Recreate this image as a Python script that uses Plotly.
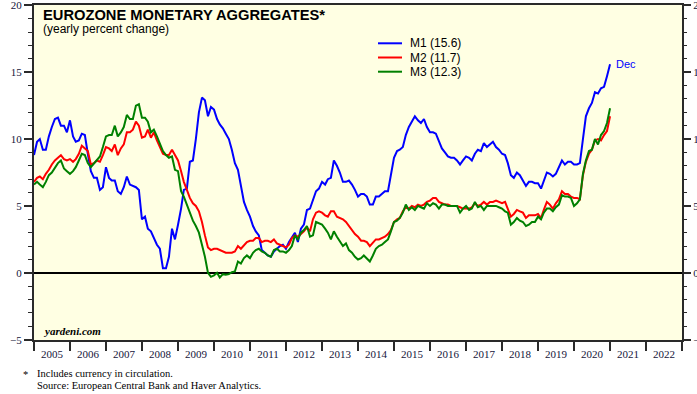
import plotly.graph_objects as go
import pandas as pd

# ---------------- data (monthly, yearly % change) ----------------
dates = pd.date_range("2005-01-01", periods=193, freq="MS")

m1 = [8.8, 9.8, 10.0, 9.2, 9.2, 10.2, 10.9, 11.5, 11.6, 11.0,
      11.0, 10.5, 11.4, 10.2, 9.8, 9.9, 10.4, 10.3, 8.9, 7.6,
      7.1, 7.1, 6.2, 6.4, 7.9, 7.1, 6.9, 6.9, 6.1, 5.9,
      6.4, 7.2, 6.6, 6.5, 6.4, 6.2, 4.0, 4.2, 3.3, 3.1,
      2.6, 2.1, 1.8, 0.35, 0.35, 1.2, 3.3, 2.5, 3.6, 4.8,
      6.2, 6.3, 8.3, 8.4, 10.0, 12.0, 13.1, 12.9, 11.7, 12.4,
      12.2, 11.5, 11.1, 10.8, 10.4, 10.0, 9.2, 8.2, 7.7, 6.4,
      5.3, 4.7, 4.2, 3.5, 3.1, 2.8, 1.7, 1.5, 1.3, 1.2,
      1.6, 1.8, 2.0, 2.1, 1.8, 2.3, 2.6, 3.0, 2.3, 3.3,
      3.6, 4.7, 4.8, 5.4, 6.1, 6.3, 6.8, 6.6, 7.0, 7.1,
      8.4, 8.0, 7.5, 6.8, 6.8, 6.9, 6.6, 6.2, 5.7, 5.9,
      5.9, 5.7, 5.1, 5.1, 5.7, 5.7, 5.9, 6.1, 6.1, 7.4,
      8.6, 9.1, 9.2, 9.4, 10.3, 10.9, 11.3, 11.7, 11.4, 11.2,
      11.5, 10.9, 10.5, 10.5, 10.4, 9.9, 9.3, 9.0, 8.7, 8.6,
      8.6, 8.4, 8.1, 8.4, 8.7, 8.6, 8.4, 8.9, 9.2, 9.1,
      9.7, 9.4, 9.6, 9.8, 9.4, 9.2, 8.9, 8.8, 8.2, 7.3,
      7.1, 7.5, 7.3, 6.9, 6.5, 6.8, 6.8, 6.7, 6.7, 6.3,
      6.8, 7.5, 7.4, 7.2, 7.4, 7.9, 8.4, 8.1, 8.3, 8.3,
      8.1, 8.1, 8.2, 10.0, 11.7, 12.3, 12.7, 13.5, 13.4, 13.8,
      13.9, 14.7, 15.6]

m2 = [6.8, 7.1, 7.2, 7.0, 7.4, 7.7, 8.1, 8.4, 8.6, 8.8,
      8.5, 8.4, 8.5, 8.3, 8.5, 8.9, 9.5, 9.3, 9.1, 8.1,
      8.2, 8.4, 8.3, 8.8, 9.4, 9.3, 9.1, 9.6, 8.8, 9.3,
      9.6, 10.5, 10.5, 10.7, 11.3, 11.0, 10.1, 10.2, 10.7, 10.1,
      10.5, 9.9, 9.4, 8.9, 8.8, 8.8, 9.2, 8.8, 8.4, 7.6,
      6.8, 6.2, 5.6, 5.2, 5.0, 4.6, 3.8, 2.8, 1.9, 1.7,
      1.8, 1.8, 1.7, 1.6, 1.5, 1.5, 1.5, 1.6, 2.0, 1.8,
      2.1, 2.3, 2.4, 2.4, 2.6, 2.6, 2.3, 2.4, 2.4, 2.3,
      2.5, 2.2, 2.1, 2.0, 1.9, 2.1, 2.6, 2.8, 2.7, 2.9,
      3.1, 3.4, 3.1, 4.0, 4.5, 4.6, 4.5, 4.3, 4.2, 4.6,
      4.6, 4.2, 4.1, 4.0, 3.8, 3.5, 3.2, 2.9, 2.7, 2.4,
      2.4, 2.3, 2.0, 2.3, 2.5, 2.5, 2.6, 2.7, 2.9, 3.2,
      3.8, 4.0, 4.1, 4.6, 4.9, 4.8, 5.0, 4.9, 5.1, 5.0,
      5.1, 5.3, 5.4, 5.6, 5.6, 5.3, 5.2, 5.1, 5.1, 5.0,
      5.0, 5.0, 4.9, 4.8, 4.8, 4.8, 4.9, 5.2, 5.0, 5.1,
      5.3, 5.1, 5.3, 5.3, 5.4, 5.3, 5.2, 5.3, 4.8, 4.2,
      4.4, 4.7, 4.6, 4.5, 4.1, 4.3, 4.3, 4.3, 4.4, 4.1,
      4.7, 5.3, 5.1, 4.8, 5.2, 5.5, 6.1, 5.9, 5.9, 5.7,
      5.6, 5.6, 5.5, 7.3, 8.3, 8.9, 9.2, 9.9, 10.0, 9.9,
      10.3, 10.6, 11.7]

m3 = [6.6, 6.8, 6.6, 6.4, 6.8, 7.3, 7.5, 7.9, 8.2, 8.4,
      7.8, 7.6, 7.4, 7.6, 7.9, 8.4, 8.9, 8.8, 8.2, 7.9,
      8.2, 8.4, 8.7, 9.4, 10.2, 10.3, 10.3, 11.0, 10.2, 10.5,
      10.9, 11.8, 11.5, 11.5, 12.5, 12.6, 11.6, 11.6, 11.3, 10.5,
      10.7, 10.2, 9.6, 9.1, 8.8, 8.6, 8.7, 7.7, 7.6, 6.1,
      5.7, 5.1, 4.6, 3.9, 3.5, 3.0, 2.1, 1.2, 0.0, -0.3,
      -0.2, 0.0, -0.35, -0.1, -0.15, -0.1, 0.05, 0.1, 0.85, 0.7,
      1.1, 1.3, 1.1, 1.5, 1.7, 1.8, 1.6, 1.5, 1.3, 1.2,
      1.7, 1.8, 1.6, 1.6, 1.5, 1.7, 2.0, 2.8, 2.5, 3.0,
      3.2, 3.5, 2.7, 2.8, 3.8, 3.7, 3.6, 3.3, 3.0, 2.5,
      3.1, 2.7, 2.4, 2.0, 2.2, 1.7, 1.5, 1.2, 1.0, 1.1,
      1.3, 1.1, 0.85, 1.3, 1.8, 2.0, 2.1, 2.3, 2.5, 3.1,
      3.8, 3.9, 4.1, 4.5, 5.1, 4.7, 4.9, 4.7, 5.0, 4.9,
      4.8, 5.2, 5.0, 5.2, 5.1, 4.8, 5.1, 5.1, 5.0, 5.0,
      5.0, 5.0, 4.5, 4.8, 5.0, 4.7, 4.8, 5.3, 4.9, 5.0,
      4.7, 5.0, 5.0, 5.0, 5.0, 4.9, 4.8, 4.6, 4.5, 3.6,
      3.8, 4.1, 3.9, 3.8, 3.5, 3.6, 3.8, 3.8, 4.2, 4.0,
      4.5, 4.8, 4.8, 4.6, 4.9, 5.1, 5.8, 5.7, 5.7, 5.6,
      5.0, 5.2, 5.5, 7.4, 8.4, 9.1, 9.2, 10.0, 9.6, 10.3,
      10.6, 11.2, 12.3]

series_names = ["M1", "M2", "M3"]
series_colors = ["#0000FF", "#FF0000", "#008000"]
series_values = [m1, m2, m3]

# ---------------- layout geometry helpers ----------------
W, H = 697, 394
L, R, T, B = 34, 682, 5, 340


def px(x):
    return (x - L) / (R - L)


def py(y):
    return (B - y) / (B - T)


SERIF = "Liberation Serif, Times New Roman, serif"
SANS = "Liberation Sans, Arial, sans-serif"
AXC = "#2a2a2a"
LBLC = "#15153a"

fig = go.Figure()
for name, col, vals in zip(series_names, series_colors, series_values):
    fig.add_trace(go.Scatter(x=dates, y=vals, mode="lines", name=name,
                             line=dict(color=col, width=2),
                             showlegend=False, hoverinfo="skip"))
# dummy trace to anchor right axis
fig.add_trace(go.Scatter(x=[dates[0]], y=[None], yaxis="y2", showlegend=False,
                         hoverinfo="skip", mode="lines"))

annotations = [
    dict(text="<b>EUROZONE MONETARY AGGREGATES*</b>", x=px(41), y=py(15),
         font=dict(family=SANS, size=14.7, color="#000000")),
    dict(text="(yearly percent change)", x=px(41), y=py(28.5),
         font=dict(family=SANS, size=12, color="#000000")),
    dict(text="<b><i>yardeni.com</i></b>", x=px(41), y=py(331),
         font=dict(family=SERIF, size=11, color="#000000")),
    dict(text="*", x=px(21), y=py(374),
         font=dict(family=SERIF, size=10.5, color="#000000")),
    dict(text="Includes currency in circulation.", x=px(35), y=py(373.5),
         font=dict(family=SERIF, size=10.5, color="#000000")),
    dict(text="Source: European Central Bank and Haver Analytics.", x=px(35), y=py(385.5),
         font=dict(family=SERIF, size=10.5, color="#000000")),
]
for a in annotations:
    a.update(xref="paper", yref="paper", xanchor="left", yanchor="middle",
             showarrow=False)

# manual legend
shapes = []
leg_rows = [43.3, 57.5, 71.7]
for name, col, vals, yrow in zip(series_names, series_colors, series_values, leg_rows):
    shapes.append(dict(type="line", xref="paper", yref="paper",
                       x0=px(378), x1=px(402), y0=py(yrow), y1=py(yrow),
                       line=dict(color=col, width=2)))
    annotations.append(dict(text=f"{name} ({vals[-1]:.1f})", xref="paper", yref="paper",
                            x=px(408), y=py(yrow), xanchor="left", yanchor="middle",
                            showarrow=False,
                            font=dict(family=SANS, size=12, color="#000000")))

# "Dec" label at end of M1
annotations.append(dict(text="Dec", x=dates[-1], y=m1[-1], xref="x", yref="y",
                        xanchor="left", yanchor="middle", xshift=4, showarrow=False,
                        font=dict(family=SANS, size=11, color="#0000FF")))

yaxis_common = dict(
    range=[-5.02, 20.02], tickvals=[-5, 0, 5, 10, 15, 20],
    ticks="outside", ticklen=8, tickwidth=1.5,
    tickcolor=AXC, showgrid=False, ticklabeloverflow="allow",
    tickfont=dict(family=SERIF, size=11, color=LBLC),
    minor=dict(dtick=1, tick0=0, ticks="outside", ticklen=4, tickwidth=1.2,
               tickcolor=AXC, showgrid=False),
    fixedrange=True,
)

fig.update_layout(
    width=W, height=H,
    margin=dict(l=L, r=W - R, t=T, b=H - B, autoexpand=False),
    paper_bgcolor="#FFFFFF",
    plot_bgcolor="#FFFFE3",
    showlegend=False,
    xaxis=dict(
        type="date", range=["2005-01-01", "2023-01-01"],
        tick0="2005-01-01", dtick="M12", tickformat="%Y", ticklabelmode="period",
        ticks="outside", ticklen=9, tickwidth=1.5, tickcolor=AXC,
        ticklabelstandoff=-6,
        showline=True, linecolor=AXC, linewidth=2, mirror=True,
        showgrid=False, zeroline=False,
        tickfont=dict(family=SERIF, size=11, color=LBLC),
        fixedrange=True,
    ),
    yaxis=dict(
        **yaxis_common,
        showline=True, linecolor=AXC, linewidth=2, mirror=True,
        zeroline=True, zerolinecolor="#000000", zerolinewidth=1.5,
        side="left",
    ),
    yaxis2=dict(
        **yaxis_common,
        overlaying="y", side="right", showline=False, zeroline=False,
    ),
    annotations=annotations,
    shapes=shapes,
)

fig.write_html("out.html", config={"displayModeBar": False},
               post_script="document.body.style.margin='0';document.body.style.overflow='hidden';")
